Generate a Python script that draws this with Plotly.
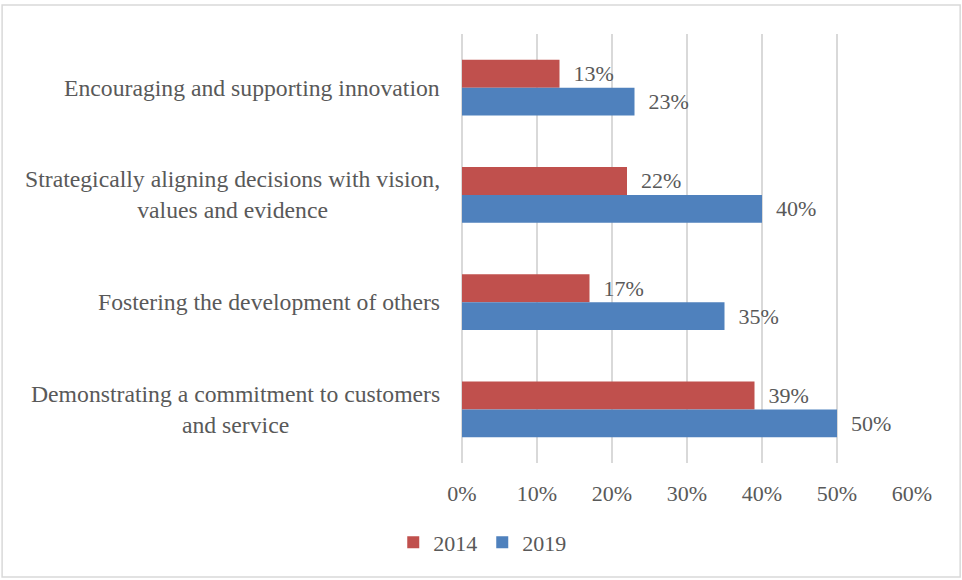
import plotly.graph_objects as go

# Leadership competencies and share of respondents (%) in each survey year
categories = [
    "Encouraging and supporting innovation",
    "Strategically aligning decisions with vision,<br>values and evidence",
    "Fostering the development of others",
    "Demonstrating a commitment to customers<br>and service",
]
values_2014 = [13, 22, 17, 39]
values_2019 = [23, 40, 35, 50]
x_ticks = [0, 10, 20, 30, 40, 50, 60]
x_tick_labels = [f"{t}%" for t in x_ticks]

FONT = "Liberation Serif, Times New Roman, DejaVu Serif, serif"
TEXT_GREY = "#595959"
GRID = "#D9D9D9"
RED = "#C0504D"
BLUE = "#4F81BD"

fig = go.Figure()
for name, vals, color in [("2014", values_2014, RED), ("2019", values_2019, BLUE)]:
    fig.add_trace(go.Bar(
        name=name,
        y=categories,
        x=vals,
        orientation="h",
        marker=dict(color=color, line=dict(width=0)),
        text=[f"\u00a0\u00a0{v}%" for v in vals],
        texttemplate="%{text}",
        textposition="outside",
        cliponaxis=False,
        textfont=dict(family=FONT, size=22, color=TEXT_GREY),
    ))

# Centred, wrapped category labels to the left of the plot area
for cat in categories:
    fig.add_annotation(
        x=0, y=cat, xref="x", yref="y",
        text=cat, showarrow=False,
        xanchor="right", yanchor="middle", align="center",
        xshift=-20,
        font=dict(family=FONT, size=23.7, color=TEXT_GREY),
    )

# Outer chart border
fig.add_shape(
    type="rect", xref="paper", yref="paper",
    x0=-1.022, x1=1.107, y0=-0.2657, y1=1.0676,
    line=dict(color=GRID, width=1.5), fillcolor="rgba(0,0,0,0)", layer="below",
)

fig.update_layout(
    width=962, height=580,
    margin=dict(l=462, r=50, t=34, b=117),
    paper_bgcolor="white", plot_bgcolor="white",
    barmode="group",
    bargap=0.48, bargroupgap=0,
    font=dict(family=FONT, size=22, color=TEXT_GREY),
    showlegend=True,
    legend=dict(
        orientation="h", x=0.045, xanchor="center", y=-0.185, yanchor="middle",
        font=dict(family=FONT, size=22, color=TEXT_GREY),
        itemwidth=30, tracegroupgap=0,
    ),
    xaxis=dict(
        range=[0, 60], tickvals=x_ticks, ticktext=x_tick_labels,
        showgrid=True, gridcolor=GRID, gridwidth=1.5,
        zeroline=True, zerolinecolor=GRID, zerolinewidth=1.5,
        showline=False, ticks="", ticklabelstandoff=15,
        tickfont=dict(family=FONT, size=22, color=TEXT_GREY),
        fixedrange=True,
    ),
    yaxis=dict(
        autorange="reversed", showticklabels=False, showgrid=False,
        zeroline=False, showline=False, ticks="", fixedrange=True,
    ),
)

fig.write_html("out.html")
